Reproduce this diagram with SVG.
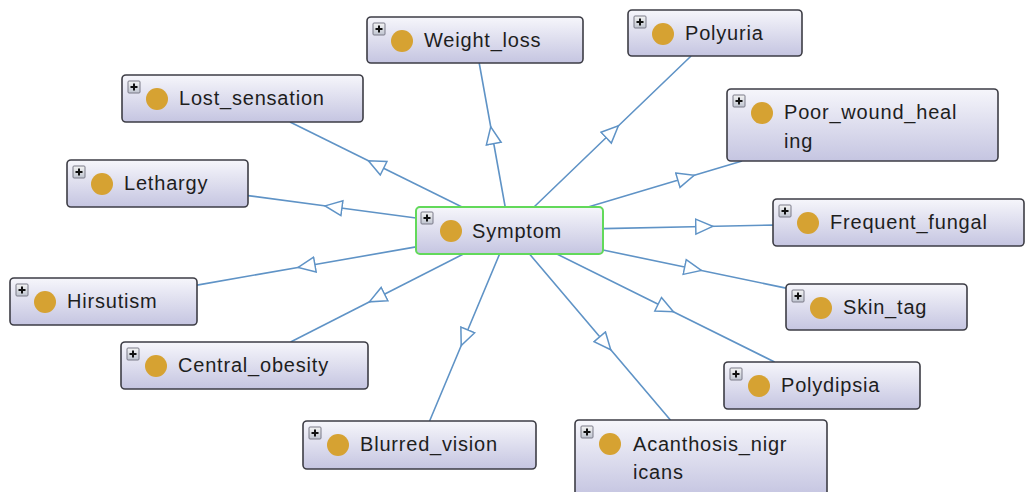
<svg xmlns="http://www.w3.org/2000/svg" width="1026" height="492" viewBox="0 0 1026 492">
  <style>
    .edge { fill: none; stroke: #5f93c6; stroke-width: 1.6; marker-mid: url(#tri); }
    .box { fill: url(#nodeFill); stroke: #3d3d45; stroke-width: 1.6; }
    .root { fill: url(#nodeFill); stroke: #62d95a; stroke-width: 2; }
    .dot { fill: #d6a232; }
    .exp { fill: url(#expFill); stroke: #7a7a88; stroke-width: 1; }
    .plus { stroke: #111; stroke-width: 2; }
    .label { font-family: "Liberation Sans", Arial, sans-serif; font-size: 20px; letter-spacing: 0.8px; fill: #1e1e1e; }
  </style>
  <defs>
    <linearGradient id="nodeFill" x1="0" y1="0" x2="0" y2="1">
      <stop offset="0" stop-color="#f6f6fb"/>
      <stop offset="1" stop-color="#c5c5e1"/>
    </linearGradient>
    <linearGradient id="expFill" x1="0" y1="0" x2="0" y2="1">
      <stop offset="0" stop-color="#f4f4f4"/>
      <stop offset="1" stop-color="#bfc4d0"/>
    </linearGradient>
    <marker id="tri" markerUnits="userSpaceOnUse" markerWidth="22" markerHeight="18" viewBox="0 0 22 18" refX="9.5" refY="9" orient="auto">
      <path d="M1,1.5 L18,9 L1,16.5 Z" fill="#fff" stroke="#5f93c6" stroke-width="1.5"/>
    </marker>
    <!-- expand toggle shown at the top-left of every class box -->
    <g id="toggle">
      <rect class="exp" x="0" y="0" width="12" height="12" rx="1"/>
      <path class="plus" d="M2.5,6 H9.5 M6,2.5 V9.5"/>
    </g>
  </defs>

  <!-- subclass links: Symptom centre to each child centre, arrow at the half-way point -->
  <g id="connectors">
    <polyline class="edge" points="505.2,207 492.25,135.25 479.2,63"/>
    <polyline class="edge" points="534,207 612.25,131.75 691.1,56"/>
    <polyline class="edge" points="462,207 376,164.5 290,122"/>
    <polyline class="edge" points="588.1,207 686,177.75 742.1,161"/>
    <polyline class="edge" points="416,218 333.5,207 248,195.6"/>
    <polyline class="edge" points="603,228.6 704.25,226.5 773,225.1"/>
    <polyline class="edge" points="416,246.9 306.5,266 197,285.1"/>
    <polyline class="edge" points="603,250 693,268.75 786,288.1"/>
    <polyline class="edge" points="463.4,254 377,298 290.6,342"/>
    <polyline class="edge" points="556.9,254 665.75,308 774.6,362"/>
    <polyline class="edge" points="499.6,254 464.5,337.75 429.6,421"/>
    <polyline class="edge" points="529.5,254 605.25,343.25 670.4,420"/>
  </g>

  <g id="Symptom">
    <rect class="root" x="416" y="207" width="187" height="47" rx="4"/>
    <use href="#toggle" x="421" y="212"/>
    <circle class="dot" cx="451" cy="231" r="11"/>
    <text class="label" x="472" y="238">Symptom</text>
  </g>

  <g id="Weight_loss">
    <rect class="box" x="367" y="17" width="216" height="46" rx="4"/>
    <use href="#toggle" x="373" y="23"/>
    <circle class="dot" cx="402" cy="41" r="11"/>
    <text class="label" x="424" y="47">Weight_loss</text>
  </g>

  <g id="Polyuria">
    <rect class="box" x="628" y="10" width="174" height="46" rx="4"/>
    <use href="#toggle" x="634" y="16"/>
    <circle class="dot" cx="663" cy="34" r="11"/>
    <text class="label" x="685" y="40">Polyuria</text>
  </g>

  <g id="Lost_sensation">
    <rect class="box" x="122" y="75" width="241" height="47" rx="4"/>
    <use href="#toggle" x="128" y="81"/>
    <circle class="dot" cx="157" cy="99" r="11"/>
    <text class="label" x="179" y="105">Lost_sensation</text>
  </g>

  <g id="Poor_wound_healing">
    <rect class="box" x="727" y="89" width="271" height="72" rx="4"/>
    <use href="#toggle" x="733" y="95"/>
    <circle class="dot" cx="762" cy="113" r="11"/>
    <text class="label" x="784" y="119">Poor_wound_heal</text>
    <text class="label" x="784" y="148">ing</text>
  </g>

  <g id="Lethargy">
    <rect class="box" x="67" y="160" width="181" height="47" rx="4"/>
    <use href="#toggle" x="73" y="166"/>
    <circle class="dot" cx="102" cy="184" r="11"/>
    <text class="label" x="124" y="190">Lethargy</text>
  </g>

  <g id="Frequent_fungal">
    <rect class="box" x="773" y="199" width="251" height="47" rx="4"/>
    <use href="#toggle" x="779" y="205"/>
    <circle class="dot" cx="808" cy="223" r="11"/>
    <text class="label" x="830" y="229">Frequent_fungal</text>
  </g>

  <g id="Hirsutism">
    <rect class="box" x="10" y="278" width="187" height="47" rx="4"/>
    <use href="#toggle" x="16" y="284"/>
    <circle class="dot" cx="45" cy="302" r="11"/>
    <text class="label" x="67" y="308">Hirsutism</text>
  </g>

  <g id="Skin_tag">
    <rect class="box" x="786" y="284" width="181" height="46" rx="4"/>
    <use href="#toggle" x="792" y="290"/>
    <circle class="dot" cx="821" cy="308" r="11"/>
    <text class="label" x="843" y="314">Skin_tag</text>
  </g>

  <g id="Central_obesity">
    <rect class="box" x="121" y="342" width="247" height="47" rx="4"/>
    <use href="#toggle" x="127" y="348"/>
    <circle class="dot" cx="156" cy="366" r="11"/>
    <text class="label" x="178" y="372">Central_obesity</text>
  </g>

  <g id="Polydipsia">
    <rect class="box" x="724" y="362" width="196" height="47" rx="4"/>
    <use href="#toggle" x="730" y="368"/>
    <circle class="dot" cx="759" cy="386" r="11"/>
    <text class="label" x="781" y="392">Polydipsia</text>
  </g>

  <g id="Blurred_vision">
    <rect class="box" x="303" y="421" width="233" height="48" rx="4"/>
    <use href="#toggle" x="309" y="427"/>
    <circle class="dot" cx="338" cy="445" r="11"/>
    <text class="label" x="360" y="451">Blurred_vision</text>
  </g>

  <g id="Acanthosis_nigricans">
    <rect class="box" x="575" y="420" width="252" height="76" rx="4"/>
    <use href="#toggle" x="581" y="426"/>
    <circle class="dot" cx="610" cy="444" r="11"/>
    <text class="label" x="633" y="451">Acanthosis_nigr</text>
    <text class="label" x="633" y="479">icans</text>
  </g>
</svg>
